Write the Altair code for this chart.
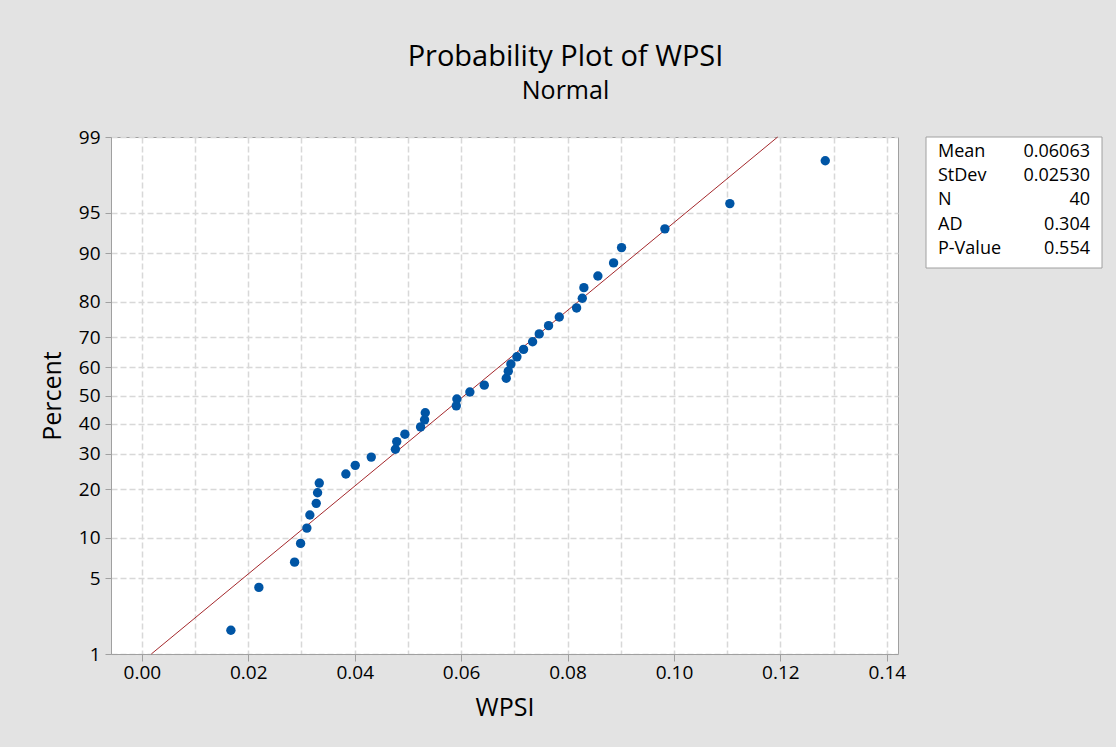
from statistics import NormalDist

import altair as alt
import pandas as pd

# WPSI observations (40 samples)
wpsi = [
    0.01673, 0.02199, 0.02870, 0.02983, 0.03101, 0.03157, 0.03277, 0.03302,
    0.03334, 0.03834, 0.04010, 0.04311, 0.04765, 0.04790, 0.04943, 0.05238,
    0.05313, 0.05326, 0.05909, 0.05920, 0.06164, 0.06435, 0.06848, 0.06886,
    0.06935, 0.07048, 0.07173, 0.07343, 0.07468, 0.07643, 0.07844, 0.08170,
    0.08277, 0.08307, 0.08570, 0.08865, 0.09015, 0.09829, 0.11050, 0.12843,
]

# fitted normal parameters and goodness-of-fit summary
fit_mean = 0.06063
fit_stdev = 0.02530
stat_names = ["Mean", "StDev", "N", "AD", "P-Value"]
stat_values = ["0.06063", "0.02530", "40", "0.304", "0.554"]

percent_ticks = [1, 5, 10, 20, 30, 40, 50, 60, 70, 80, 90, 95, 99]
wpsi_ticks = [round(k * 0.01, 2) for k in range(15)]

FONT = "Open Sans"
PLOT_W, PLOT_H = 787, 517
nd = NormalDist()

# median-rank plotting positions on the normal-score scale
n = len(wpsi)
points = pd.DataFrame({
    "WPSI": sorted(wpsi),
    "score": [nd.inv_cdf((i + 1 - 0.3) / (n + 0.4)) for i in range(n)],
})

# fitted line from the 1st to the 99th percentile
fit_scores = [nd.inv_cdf(p / 100) for p in (percent_ticks[0], percent_ticks[-1])]
fit = pd.DataFrame({
    "score": fit_scores,
    "WPSI": [fit_mean + z * fit_stdev for z in fit_scores],
})

y_edge = nd.inv_cdf(percent_ticks[-1] / 100)

x_enc = alt.X(
    "WPSI:Q",
    title="WPSI",
    scale=alt.Scale(domain=[-0.0058, 0.1421], nice=False, zero=False),
    axis=alt.Axis(
        values=wpsi_ticks,
        labelExpr="round(datum.value*100) % 2 == 0 ? format(datum.value, '.2f') : ''",
        tickOpacity={"condition": {"test": "round(datum.value*100) % 2 != 0", "value": 0}, "value": 1},
        labelOverlap=False,
        labelFlush=False,
        tickSize=7,
        labelPadding=2,
        titlePadding=13,
    ),
)
y_enc = alt.Y(
    "score:Q",
    title="Percent",
    scale=alt.Scale(domain=[-y_edge, y_edge], nice=False, zero=False),
    axis=alt.Axis(
        values=[nd.inv_cdf(p / 100) for p in percent_ticks],
        labelExpr="format(cumulativeNormal(datum.value)*100, '.0f')",
        labelOverlap=False,
        labelFlush=False,
        tickSize=6,
        labelPadding=5,
        titlePadding=13,
    ),
)

fit_line = alt.Chart(fit).mark_line(color="#a4282c", strokeWidth=1).encode(x=x_enc, y=y_enc)
dots = alt.Chart(points).mark_circle(size=88, color="#0055a5", opacity=1).encode(x=x_enc, y=y_enc)
plot = alt.layer(fit_line, dots)

# summary table to the right of the plot area
stats_df = pd.DataFrame({"name": stat_names, "value": stat_values})
BOX_L, BOX_R, BOX_H = 815, 991, 131
row = alt.Y("name:N", sort=stat_names, axis=None,
            scale=alt.Scale(type="point", padding=0, range=[14.6, 111.8]))
stat_box = alt.Chart(stats_df).mark_rect(
    fill="white", stroke="#a0a0a0", strokeWidth=1
).encode(
    x=alt.value(BOX_L), x2=alt.value(BOX_R), y=alt.value(0), y2=alt.value(BOX_H)
).transform_filter("datum.name == 'Mean'")
stat_labels = alt.Chart(stats_df).mark_text(
    align="left", baseline="middle", font=FONT, fontSize=18, color="black"
).encode(x=alt.value(BOX_L + 12), y=row, text="name:N")
stat_nums = alt.Chart(stats_df).mark_text(
    align="right", baseline="middle", font=FONT, fontSize=18, color="black"
).encode(x=alt.value(BOX_R - 12), y=row, text="value:N")
table = alt.layer(stat_box, stat_labels, stat_nums)

chart = alt.layer(plot, table).resolve_scale(y="independent").properties(
    width=PLOT_W,
    height=PLOT_H,
    title=alt.TitleParams(
        "Probability Plot of WPSI",
        subtitle="Normal",
        anchor="middle",
        dx=61,
        font=FONT,
        fontSize=29,
        fontWeight="normal",
        color="black",
        subtitleFont=FONT,
        subtitleFontSize=25,
        subtitleColor="black",
        subtitlePadding=7,
        offset=24,
    ),
    background="#e3e3e3",
    autosize=alt.AutoSizeParams(type="none"),
    padding={"left": 111, "top": 137, "right": 1116 - 111 - PLOT_W, "bottom": 747 - 137 - PLOT_H},
).configure_view(
    fill="white", stroke="#a0a0a0", strokeWidth=1
).configure_axis(
    labelFont=FONT,
    labelFontSize=19,
    labelColor="black",
    titleFont=FONT,
    titleFontSize=25,
    titleFontWeight="normal",
    titleColor="black",
    domainColor="#a0a0a0",
    tickColor="#a0a0a0",
    gridColor="#d8d8d8",
    gridDash=[6, 3],
    gridWidth=1.5,
)

chart.save("out.html", embed_options={"renderer": "svg", "actions": False})
